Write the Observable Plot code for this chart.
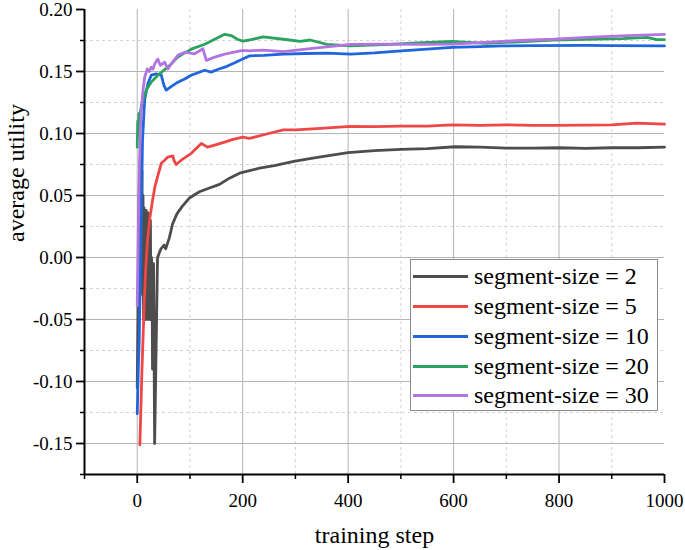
<!DOCTYPE html>
<html><head><meta charset="utf-8">
<script src="https://cdn.jsdelivr.net/npm/d3@7"></script>
<script src="https://cdn.jsdelivr.net/npm/@observablehq/plot@0.6"></script>
<style>
body{margin:0;background:#fff;}
#wrap{position:relative;width:685px;height:550px;}
#legend{position:absolute;left:410px;top:259px;width:248px;height:152px;border:1px solid #8c8c8c;background:#fff;font-family:"Liberation Serif","Times New Roman",serif;font-size:24px;color:#000;box-sizing:border-box;}
.row{position:absolute;left:0;height:30px;display:flex;align-items:center;white-space:nowrap;}
.sw{display:inline-block;width:55px;height:3px;margin-left:2px;margin-right:6px;}
</style></head><body><div id="wrap"></div>
<script>
const seriesLabels = ["segment-size = 2","segment-size = 5","segment-size = 10","segment-size = 20","segment-size = 30"];
const seriesColors = ["#4d4d4d","#ef4646","#1f66dc","#2ca25f","#b274e0"];
const xTicks = [0,200,400,600,800,1000];
const xMinorTicks = [-100,100,300,500,700,900];
const yTicks = [-0.15,-0.10,-0.05,0.00,0.05,0.10,0.15,0.20];
const yMinorTicks = [-0.175,-0.125,-0.075,-0.025,0.025,0.075,0.125,0.175];

const seg2 = [[0,-0.105],[2,-0.02],[4,0.06],[6,0.082],[8,0.0],[9,0.07],[10,-0.03],[11,0.05],[12,-0.05],[13,0.04],[14,-0.04],[15,0.035],[16,-0.05],[17,0.038],[18,-0.045],[19,0.03],[20,-0.05],[21,0.036],[22,-0.04],[23,0.02],[24,-0.05],[25,0.03],[26,-0.045],[27,0.0],[28,-0.01],[29,-0.09],[30,-0.02],[31,-0.005],[33,-0.15],[38.5,0.0],[45,0.007],[51,0.01],[54,0.007],[61,0.016],[67,0.027],[75,0.035],[85,0.041],[99,0.048],[118,0.053],[137,0.056],[156,0.059],[175,0.064],[194,0.068],[213,0.07],[232,0.072],[260,0.074],[297,0.0775],[330,0.080],[360,0.082],[400,0.0845],[450,0.0862],[500,0.0872],[550,0.0878],[603,0.0893],[650,0.089],[700,0.0882],[750,0.0882],[800,0.0885],[850,0.088],[900,0.0885],[950,0.0885],[1000,0.089]];
const seg5 = [[5,-0.151],[9,-0.09],[13,-0.04],[16,-0.01],[19.5,0.014],[24,0.032],[29,0.046],[34,0.058],[38.5,0.065],[45.6,0.076],[51,0.078],[58,0.081],[67.6,0.082],[70,0.078],[74,0.075],[85,0.079],[102.5,0.084],[121.5,0.092],[133.5,0.089],[150,0.091],[165.8,0.093],[180,0.095],[200,0.097],[213,0.096],[240,0.099],[277,0.103],[300,0.103],[340,0.104],[405,0.1057],[450,0.1055],[500,0.106],[550,0.106],[597,0.107],[650,0.1065],[700,0.107],[750,0.1065],[789,0.1065],[850,0.1068],[900,0.107],[948,0.1083],[1000,0.1075]];
const seg10 = [[0,-0.126],[2,-0.09],[3.8,-0.067],[6.9,0.014],[10,0.094],[14,0.127],[20,0.140],[26.6,0.147],[36,0.148],[45.6,0.147],[50.5,0.139],[55,0.135],[65,0.138],[77,0.1414],[90,0.144],[102,0.147],[115,0.149],[128,0.151],[140,0.1495],[155,0.152],[166,0.1535],[185,0.157],[200,0.160],[213,0.1626],[240,0.163],[277,0.164],[320,0.1645],[360,0.1648],[405,0.164],[450,0.165],[501,0.1667],[550,0.168],[597,0.1694],[650,0.170],[693,0.1707],[750,0.1708],[853,0.171],[900,0.1708],[1000,0.1707]];
const seg20 = [[0,0.089],[1,0.11],[2,0.098],[3,0.116],[4.4,0.114],[7,0.12],[10.7,0.127],[17,0.135],[26.6,0.1414],[39,0.147],[58,0.1535],[77,0.1616],[90,0.165],[102.5,0.168],[128,0.172],[147,0.176],[166,0.180],[178,0.179],[190,0.176],[200,0.1745],[213,0.1754],[239,0.178],[277,0.176],[309,0.1743],[328,0.1754],[360,0.1718],[405,0.1707],[469,0.1716],[530,0.173],[597,0.1743],[661,0.1727],[725,0.174],[789,0.1754],[850,0.176],[920,0.1765],[967,0.1776],[985,0.1757],[1000,0.1757]];
const seg30 = [[0,-0.039],[2,0.02],[4,0.07],[6,0.105],[8,0.12],[11,0.135],[14,0.145],[19,0.152],[23,0.150],[26.6,0.1535],[30,0.152],[33,0.156],[39,0.160],[44,0.1549],[52,0.1575],[58,0.152],[64.5,0.156],[77,0.163],[90,0.1656],[109,0.1643],[124.6,0.1683],[131,0.159],[147,0.1616],[166,0.164],[200,0.167],[213,0.1667],[239,0.1673],[277,0.166],[341,0.169],[405,0.1718],[469,0.172],[530,0.1718],[597,0.172],[660,0.1735],[725,0.175],[790,0.176],[853,0.1776],[930,0.179],[1000,0.18]];

const allSeries = [seg2, seg5, seg10, seg20, seg30];
const rows = allSeries.flatMap((s, i) => s.map(([step, v]) => ({step, v, series: seriesLabels[i]})));

const font = '"Liberation Serif","Times New Roman",serif';
const chart = Plot.plot({
  width: 685, height: 550,
  marginLeft: 84, marginRight: 21, marginTop: 9, marginBottom: 76,
  style: {fontFamily: font, background: "#fff", color: "#000"},
  x: {domain: [-100, 1000]},
  y: {domain: [-0.175, 0.20]},
  color: {domain: seriesLabels, range: seriesColors},
  marks: [
    Plot.gridX(xMinorTicks.slice(1), {stroke: "#d4d4d4", strokeOpacity: 1, strokeDasharray: "3,3"}),
    Plot.gridY(yMinorTicks.slice(1), {stroke: "#d4d4d4", strokeOpacity: 1, strokeDasharray: "3,3"}),
    Plot.gridX(xTicks.slice(0, -1), {stroke: "#b4b4b4", strokeOpacity: 1}),
    Plot.gridY(yTicks.slice(0, -1), {stroke: "#b4b4b4", strokeOpacity: 1}),
    Plot.line(rows, {x: "step", y: "v", z: "series", stroke: "series", strokeWidth: 2.8, strokeLinejoin: "round"}),
    Plot.axisX({ticks: xTicks, tickSize: 9, tickPadding: 10, strokeWidth: 1.8, fontSize: 19, fontFamily: font, label: null, tickFormat: d => String(d)}),
    Plot.axisX({ticks: xMinorTicks, tickSize: 5, strokeWidth: 1.5, tickFormat: () => "", label: null}),
    Plot.axisY({ticks: yTicks, tickSize: 8, tickPadding: 4, strokeWidth: 1.8, fontSize: 19, fontFamily: font, label: null, tickFormat: d => d.toFixed(2)}),
    Plot.axisY({ticks: yMinorTicks, tickSize: 4, strokeWidth: 1.5, tickFormat: () => "", label: null}),
    Plot.ruleX([-100], {stroke: "#000", strokeWidth: 2}),
    Plot.ruleY([-0.175], {stroke: "#000", strokeWidth: 2}),
    Plot.text(["average utility"], {frameAnchor: "left", rotate: -90, dx: -68, fontSize: 24, fontFamily: font, fill: "#000"}),
    Plot.text(["training step"], {frameAnchor: "bottom", dy: 68, fontSize: 24, fontFamily: font, fill: "#000"})
  ]
});
const wrap = document.getElementById("wrap");
wrap.appendChild(chart);

const legend = document.createElement("div");
legend.id = "legend";
seriesLabels.forEach((lab, i) => {
  const r = document.createElement("div");
  r.className = "row";
  r.style.top = [1, 31, 61, 91, 120][i] + "px";
  const sw = document.createElement("span");
  sw.className = "sw";
  sw.style.background = seriesColors[i];
  const t = document.createElement("span");
  t.textContent = lab;
  r.appendChild(sw); r.appendChild(t);
  legend.appendChild(r);
});
wrap.appendChild(legend);
</script>
</body></html>
